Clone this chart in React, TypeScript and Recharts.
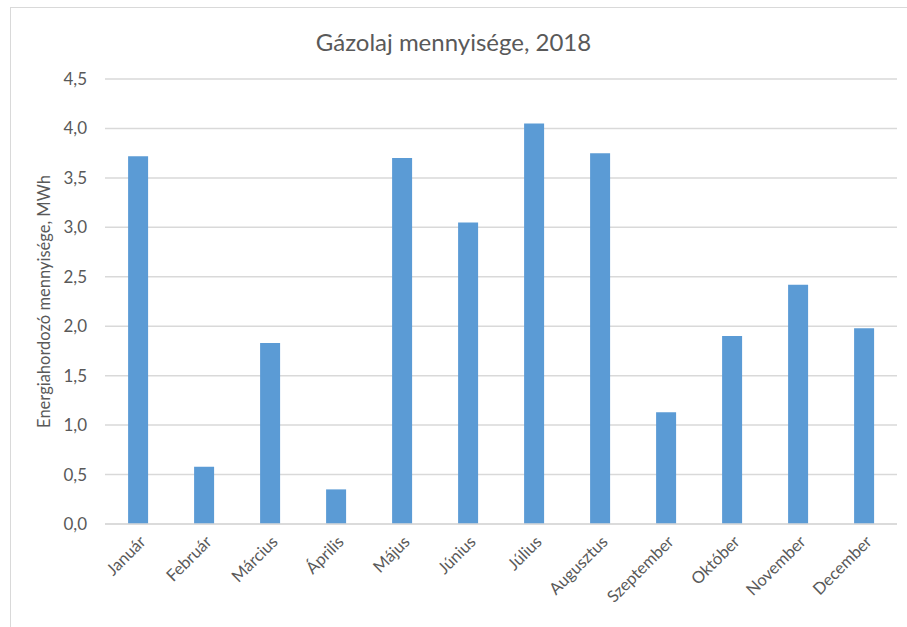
import React from "react";
import { Bar, BarChart, CartesianGrid, Label, XAxis, YAxis } from "recharts";

const months = [
  "Január",
  "Február",
  "Március",
  "Április",
  "Május",
  "Június",
  "Július",
  "Augusztus",
  "Szeptember",
  "Október",
  "November",
  "December",
];

const amounts = [3.72, 0.58, 1.83, 0.35, 3.7, 3.05, 4.05, 3.75, 1.13, 1.9, 2.42, 1.98];

const yTicks = [0, 0.5, 1, 1.5, 2, 2.5, 3, 3.5, 4, 4.5];

const data = months.map((name, i) => ({ name, value: amounts[i] }));

const font = "Lato, 'Open Sans', sans-serif";
const grey = "#595959";

const fmt = (v: number) => v.toFixed(1).replace(".", ",");

const MonthTick = (props: any) => {
  const { x, y, payload } = props;
  return (
    <g transform={`translate(${x + 6},${y + 8})`}>
      <text
        textAnchor="end"
        transform="rotate(-45)"
        fill={grey}
        fontSize={16.5}
        fontFamily={font}
        dy={4}
      >
        {payload.value}
      </text>
    </g>
  );
};

export default function App() {
  return (
    <div style={{ position: "relative", width: 907, height: 627, overflow: "hidden", background: "#fff" }}>
      <style>{"body{margin:0}"}</style>
      <div
        style={{
          position: "absolute",
          left: 10,
          top: 7,
          width: 940,
          height: 660,
          border: "1px solid #d9d9d9",
        }}
      />
      <div
        style={{
          position: "absolute",
          top: 27,
          left: 0,
          width: 907,
          textAlign: "center",
          fontFamily: font,
          fontSize: 24,
          color: grey,
        }}
      >
        Gázolaj mennyisége, 2018
      </div>
      <div style={{ position: "absolute", left: 0, top: 0 }}>
        <BarChart
          width={907}
          height={627}
          data={data}
          margin={{ top: 79, right: 10, left: 0, bottom: 0 }}
          barCategoryGap="35%"
        >
          <CartesianGrid vertical={false} stroke="#d9d9d9" strokeWidth={1.5} />
          <XAxis
            dataKey="name"
            height={103}
            interval={0}
            tick={<MonthTick />}
            tickLine={false}
            axisLine={{ stroke: "#d9d9d9", strokeWidth: 1.5 }}
          />
          <YAxis
            width={105}
            domain={[0, 4.5]}
            ticks={yTicks}
            tickFormatter={fmt}
            axisLine={false}
            tickLine={false}
            tickMargin={12}
            tick={{ fill: grey, fontSize: 17, fontFamily: font }}
          >
            <Label
              value="Energiahordozó mennyisége, MWh"
              angle={-90}
              position="insideLeft"
              offset={44}
              style={{ textAnchor: "middle", fill: grey, fontSize: 16.5, fontFamily: font }}
            />
          </YAxis>
          <Bar dataKey="value" fill="#5b9bd5" isAnimationActive={false} />
        </BarChart>
      </div>
    </div>
  );
}
